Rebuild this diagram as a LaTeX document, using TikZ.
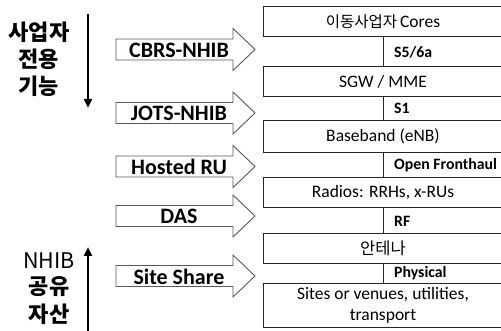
\documentclass[tikz,border=0pt]{standalone}
\usepackage{fontspec}
\setmainfont{Carlito}
\newfontfamily\kr{Noto Sans CJK KR}
\usetikzlibrary{arrows.meta}
\tikzset{
  x=1pt, y=-1pt,
  layer/.style={draw=black!85, line width=1pt, minimum width=240pt, inner sep=0pt, align=center, font=\fontsize{17.5}{21}\selectfont},
  gaplab/.style={anchor=west, inner sep=0pt, font=\bfseries\fontsize{15.8}{18}\selectfont},
  blk/.style={draw=black!65, line width=0.9pt, fill=white},
  blklab/.style={inner sep=0pt, font=\bfseries\fontsize{22}{26}\selectfont},
  side/.style={inner sep=0pt, align=center},
  bigarrow/.style={line width=2.6pt, -{Triangle[length=9pt,width=8pt]}},
}
\newcommand{\blockarr}[3]{%
  \draw[blk] (116,#2-10.5) -- (233,#2-10.5) -- (233,#2-21) -- (255,#2) -- (233,#2+21) -- (233,#2+10.5) -- (116,#2+10.5) -- cycle;
  \node[blklab] (#1) at (179,#2+0.5) {#3};}
\begin{document}
\begin{tikzpicture}
\useasboundingbox (0,0) rectangle (501,331);
% left labels
\node[side, font=\kr\bfseries\fontsize{22}{27}\selectfont] (top) at (39,59) {사업자\\전용\\기능};
\coordinate (dtop) at (88,14);
\coordinate (dbot) at (88,108);
\draw[bigarrow] (dtop) -- (dbot);
\node[side, font=\kr\fontsize{21.5}{27}\selectfont] (nhib) at (49,261) {NHIB};
\node[side, font=\kr\bfseries\fontsize{22}{28}\selectfont] (bot) at (49,301) {공유\\자산};
\coordinate (ubot) at (88,334);
\coordinate (utop) at (88,247);
\draw[bigarrow] (ubot) -- (utop);
% block arrows
\blockarr{a1}{49.5}{CBRS-NHIB}
\blockarr{a2}{113}{JOTS-NHIB}
\blockarr{a3}{166.5}{Hosted RU}
\blockarr{a4}{216}{DAS}
\blockarr{a5}{276}{Site Share}
% layers
\node[layer, minimum height=30pt] (b1) at (383,22) {{\kr\fontsize{15.5}{18}\selectfont 이동사업자}\,Cores};
\node[layer, minimum height=30pt] (b2) at (383,82) {SGW / MME};
\node[layer, minimum height=32pt] (b3) at (383,136.5) {Baseband (eNB)};
\node[layer, minimum height=30pt] (b4) at (383,193) {Radios: RRHs, x-RUs};
\node[layer, minimum height=30pt] (b5) at (383,248.5) {{\kr\fontsize{16.5}{18}\selectfont 안테나}};
\node[layer, minimum height=44pt] (b6) at (383,305.5) {Sites or venues, utilities,\\transport};
\foreach \u/\l in {b1/b2, b2/b3, b3/b4, b4/b5, b5/b6} \draw[draw=black!85, line width=1pt] (\u.south) -- (\l.north);
\node[gaplab] (g1) at (394,52) {S5/6a};
\node[gaplab] (g2) at (394,108) {S1};
\node[gaplab] (g3) at (394,165.5) {Open Fronthaul};
\node[gaplab] (g4) at (394,221) {RF};
\node[gaplab] (g5) at (394,273.5) {Physical};
\end{tikzpicture}
\end{document}
